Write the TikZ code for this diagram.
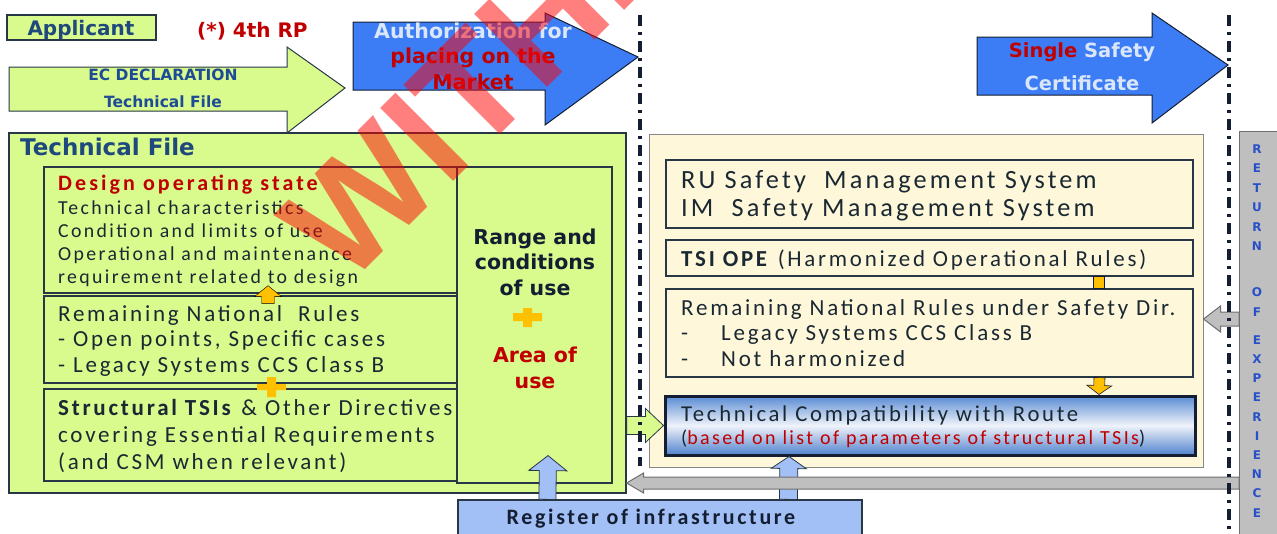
\documentclass[tikz,border=0pt]{standalone}
\usepackage{fontspec}
\setmainfont{Carlito}[LetterSpace=12]
\newfontfamily\verdfont{DejaVu Sans}
\newfontfamily\stampfont{Liberation Sans}
\usetikzlibrary{calc,fit}
\definecolor{tfgreen}{RGB}{217,250,140}
\definecolor{tfborder}{RGB}{40,55,70}
\definecolor{tfnavy}{RGB}{31,73,125}
\definecolor{tfecblue}{RGB}{30,75,150}
\definecolor{tfred}{RGB}{192,0,0}
\definecolor{tfblue}{RGB}{60,125,245}
\definecolor{tflight}{RGB}{218,230,250}
\definecolor{tfdeep}{RGB}{20,30,50}
\definecolor{tfcream}{RGB}{255,247,218}
\definecolor{tfgray}{RGB}{191,191,191}
\definecolor{tfgrayline}{RGB}{110,110,110}
\definecolor{tfreg}{RGB}{162,192,245}
\definecolor{tforange}{RGB}{255,192,0}
\definecolor{tftext}{RGB}{25,40,50}
\definecolor{tfletter}{RGB}{40,80,200}
\definecolor{tctop}{RGB}{90,140,212}
\definecolor{tcmid}{RGB}{240,243,250}
\definecolor{tcbot}{RGB}{80,130,205}

% block arrow: style, from, to, half shaft, half head, head length
\newcommand{\blockarrow}[6]{%
  \coordinate (ba-s) at #2;
  \coordinate (ba-t) at #3;
  \coordinate (ba-h) at ($(ba-t)!#6!(ba-s)$);
  \draw[#1] ($(ba-s)!#4!90:(ba-t)$) -- ($(ba-h)!#4!-90:(ba-s)$)
    -- ($(ba-h)!#5!-90:(ba-s)$) -- (ba-t) -- ($(ba-h)!#5!90:(ba-s)$)
    -- ($(ba-h)!#4!90:(ba-s)$) -- ($(ba-s)!#4!-90:(ba-t)$) -- cycle;
}

\begin{document}
\begin{tikzpicture}[x=1pt,y=-1pt,
  box/.style={draw=tfborder, line width=1.2pt, inner sep=0pt},
  txt/.style={anchor=base west, inner sep=0pt, align=left, text=tftext},
  vtxt/.style={anchor=base, inner sep=0pt, align=center},
  dashdot/.style={draw=tfdeep, line width=3.5pt, dash pattern=on 11pt off 6pt on 3pt off 6pt},
  roeletter/.style={inner sep=0pt, text=tfletter, font=\verdfont\bfseries\fontsize{12}{14}\selectfont}]
\useasboundingbox (0,0) rectangle (1277,533);
\clip (0,0) rectangle (1277,533);

% top row
\node[box, fill=tfgreen, fit={(7,15) (156,40)}] (appbox) {};
\node[vtxt, text=tfnavy, font=\verdfont\bfseries\fontsize{20}{24}\selectfont] (applicant) at (81,35) {Applicant};
\node[txt, text=tfred, font=\verdfont\bfseries\fontsize{20}{24}\selectfont] (rp) at (197,37) {(*) 4th RP};

\draw[fill=tfgreen, draw=tfborder, line width=1pt] (9,67) -- (287,67) -- (287,47) -- (345,88) -- (287,133) -- (287,111) -- (9,111) -- cycle;
\node[vtxt, text=tfecblue, font=\verdfont\bfseries\fontsize{15.5}{27}\selectfont] (ectxt) at (163,107.5) {EC DECLARATION\\Technical\ File};

\draw[fill=tfblue, draw=tfdeep, line width=1pt] (353,22) -- (545,22) -- (545,13) -- (638,57) -- (545,125) -- (545,90) -- (353,90) -- cycle;
\node[vtxt, font=\verdfont\bfseries\fontsize{20.5}{25.5}\selectfont] (authtxt) at (473,89) {\textcolor{tflight}{Authorization for}\\\textcolor{tfred}{placing on the}\\\textcolor{tfred}{Market}};

\draw[fill=tfblue, draw=tfdeep, line width=1pt] (977,37) -- (1152,37) -- (1152,13) -- (1228,65) -- (1152,123) -- (1152,95) -- (977,95) -- cycle;
\node[vtxt, font=\verdfont\bfseries\fontsize{19.5}{33}\selectfont] (ssctxt) at (1082,90) {\textcolor{tfred}{Single} \textcolor{tflight}{Safety}\\\textcolor{tflight}{Certificate}};

% technical file
\node[box, fill=tfgreen, fit={(9,133) (626,493)}] (tfbox) {};
\node[txt, text=tfnavy, font=\verdfont\bfseries\fontsize{23}{27}\selectfont] (tftitle) at (20,155) {Technical File};
\node[box, fill=tfgreen, fit={(44,167) (458,293)}] (design) {};
\node[box, fill=tfgreen, fit={(44,296) (458,383)}] (rules) {};
\node[box, fill=tfgreen, fit={(44,389) (458,481)}] (structural) {};
\node[box, fill=tfgreen, fit={(457,167) (612,483)}] (range) {};

\node[txt, font=\fontsize{19.8}{22.7}\selectfont] (designtxt) at (58,283)
  {\textcolor{tfred}{\bfseries\fontsize{22}{22.7}\selectfont\addfontfeature{LetterSpace=14}Design operating state}\\[1.3pt]Technical characteristics\\Condition and limits of use\\Operational and maintenance\\requirement related to design};
\node[txt, font=\fontsize{23}{25.5}\selectfont] (rulestxt) at (58,372)
  {Remaining National\ \ Rules\\- Open points, Specific cases\\- Legacy Systems CCS Class B};
\node[txt, font=\fontsize{23}{27}\selectfont] (structtxt) at (58,469)
  {\textbf{Structural TSIs} \& Other Directives\\covering Essential Requirements\\(and CSM when relevant)};
\node[vtxt, text=tfdeep, font=\verdfont\bfseries\fontsize{20.5}{25.5}\selectfont] (rangetxt) at (535,295) {Range and\\conditions\\of use};
\node[vtxt, text=tfred, font=\verdfont\bfseries\fontsize{20.5}{26}\selectfont] (areatxt) at (535,388) {Area of\\use};

\blockarrow{fill=tforange}{($(rules.north)+(17,8)$)}{($(design.south)+(17,-8)$)}{6.5pt}{13.5pt}{11pt}
\fill[tforange] (257,384) rectangle (286,390) (267,377) rectangle (276,397);
\fill[tforange] (513,313) rectangle (542,321) (523,308) rectangle (532,327);

% railway side
\node[draw=tfgray!70!black, line width=1pt, fill=tfcream, inner sep=0pt, fit={(649,134) (1203,467)}] (rsbox) {};
\node[box, fill=tfcream, fit={(666,160) (1193,228)}] (sms) {};
\node[box, fill=tfcream, fit={(666,240) (1193,276)}] (tsiope) {};
\node[box, fill=tfcream, fit={(666,289) (1193,377)}] (nrrules) {};
\node[txt, font=\fontsize{26.3}{28}\selectfont] (smstxt) at (681,216) {RU Safety\ \ Management System\\IM\ \ Safety Management System};
\node[txt, font=\fontsize{22.9}{26}\selectfont] (tsiopetxt) at (681,266) {\textbf{TSI OPE} (Harmonized Operational Rules)};
\node[txt, font=\fontsize{23}{25.5}\selectfont] (nrtxt) at (681,366)
  {Remaining National Rules under Safety Dir.\\\makebox[40pt][l]{-}Legacy Systems CCS Class B\\\makebox[40pt][l]{-}Not harmonized};

\draw[fill=tforange, draw=tfdeep, line width=0.8pt] ($(tsiope.south)+(164,0)$) rectangle ($(nrrules.north)+(175,0)$);

\node[draw=tfdeep, line width=3pt, inner sep=0pt, top color=tctop, bottom color=tcbot, middle color=tcmid, fit={(665,396) (1195,455)}] (techcomp) {};
\blockarrow{fill=tforange, draw=tfdeep, line width=0.6pt}{($(nrrules.south)+(170,0)$)}{($(techcomp.north)+(169,0)$)}{5.5pt}{12.5pt}{9pt}
\node[txt, font=\fontsize{22.7}{24}\selectfont] (tctxt) at (681,421) {Technical Compatibility with Route};
\node[txt, font=\fontsize{20}{22}\selectfont] (tcnote) at (681,444) {(\textcolor{tfred}{based on list of parameters of structural TSIs})};

\blockarrow{fill=tfgreen, draw=tfborder, line width=0.8pt}{(tfbox.east |- techcomp.west)}{(techcomp.west)}{9pt}{17pt}{18pt}

% register
\node[box, fill=tfreg, fit={(458,500) (862,545)}] (register) {};
\node[vtxt, text=tfdeep, font=\bfseries\fontsize{22}{26}\selectfont] (regtxt) at (651,524) {Register of infrastructure};
\blockarrow{fill=tfreg, draw=tfborder, line width=0.8pt}{($(register.north west)+(90,0)$)}{($(range.south)+(13.5,-28)$)}{8.5pt}{19pt}{15pt}
\blockarrow{fill=tfreg, draw=tfborder, line width=0.8pt}{($(register.north west)+(331,0)$)}{($(techcomp.south)+(-141,0)$)}{9pt}{17.5pt}{12pt}

% return of experience
\node[draw=tfgrayline, line width=1pt, fill=tfgray, inner sep=0pt, fit={(1239,131) (1295,545)}] (roe) {};
\coordinate (roe-mid) at (1239,319);
\coordinate (roe-low) at (1239,483);
\blockarrow{fill=tfgray, draw=tfgrayline, line width=1pt}{(roe-mid)}{(rsbox.east |- roe-mid)}{7pt}{13pt}{17pt}
\blockarrow{fill=tfgray, draw=tfgrayline, line width=1pt}{(roe-low)}{(tfbox.east |- roe-low)}{6pt}{10pt}{17pt}
\foreach \lt [count=\i] in {R,E,T,U,R,N}
  \node[roeletter] (roe-a\i) at (1257,{149+19.5*(\i-1)}) {\lt};
\foreach \lt [count=\i] in {O,F}
  \node[roeletter] (roe-b\i) at (1257,{292+20*(\i-1)}) {\lt};
\foreach \lt [count=\i] in {E,X,P,E,R,I,E,N,C,E}
  \node[roeletter] (roe-c\i) at (1257,{340+19.2*(\i-1)}) {\lt};

% phase borders
\draw[dashdot] (640,15) -- (640,466);
\draw[dashdot] (1229,15) -- (1229,533);

% stamp
\node[anchor=base west, inner sep=0pt, rotate=45, text=red, text opacity=0.5, font=\stampfont\bfseries\fontsize{150}{150}\selectfont] (stamp) at (346,289) {WITHDRAWN};
\end{tikzpicture}
\end{document}
